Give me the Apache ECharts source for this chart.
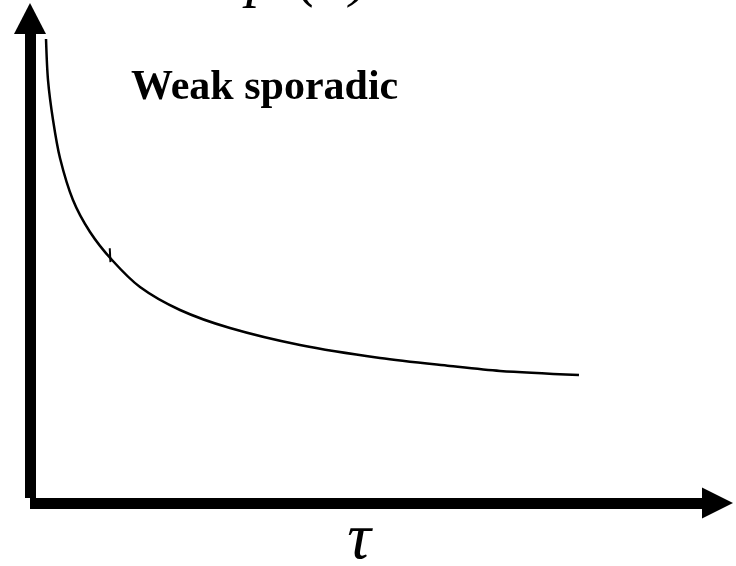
<!DOCTYPE html>
<html>
<head>
<meta charset="utf-8">
<script src="https://cdn.jsdelivr.net/npm/echarts@6/dist/echarts.min.js"></script>
<style>
  html, body { margin: 0; padding: 0; background: #fff; }
  #chart { width: 736px; height: 566px; }
</style>
</head>
<body>
<div id="chart"></div>
<script>
// Decay of the waiting-time density p(τ) for weak sporadic behaviour
const tauValues = [0.233, 0.262, 0.335, 0.436, 0.625, 0.873, 1.193, 1.6, 2.182, 2.909, 3.927, 5.091, 6.109, 6.836, 7.985];
const pValues   = [9.573, 8.717, 7.883, 7.091, 6.215, 5.548, 4.963, 4.4, 3.921, 3.545, 3.191, 2.92, 2.753, 2.649, 2.565];

// small hand-drawn stroke crossing the curve
const markTau = [1.16, 1.17];
const markP   = [5.21, 4.92];

const regimeLabel = 'Weak sporadic';
const xAxisLabel = 'τ';
const formulaGlyphs = ['p', '(', 'τ', ')', '~', 'τ'];
const formulaX = [246, 298, 316, 350, 398, 458];

const curve = tauValues.map((t, i) => [t, pValues[i]]);
const mark = markTau.map((t, i) => [t, markP[i]]);

const serif = '"Liberation Serif", "Times New Roman", serif';

const chart = echarts.init(document.getElementById('chart'), null, { renderer: 'canvas' });

const graphics = [
  {
    type: 'text',
    left: 131,
    top: 67,
    style: {
      text: regimeLabel,
      font: 'bold 42px ' + serif,
      fill: '#000'
    }
  },
  {
    type: 'text',
    x: 359,
    y: 541,
    style: {
      text: xAxisLabel,
      font: 'italic 66px ' + serif,
      fill: '#000',
      align: 'center',
      verticalAlign: 'middle'
    }
  }
].concat(formulaGlyphs.map((g, i) => ({
  type: 'text',
  x: formulaX[i],
  y: -21,
  style: {
    text: g,
    font: 'italic 60px ' + serif,
    fill: '#000',
    align: 'left',
    verticalAlign: 'middle'
  }
})));

chart.setOption({
  animation: false,
  backgroundColor: '#fff',
  grid: { left: 30, right: 18.5, top: 18.5, bottom: 68 },
  xAxis: {
    type: 'value',
    min: 0,
    max: 10,
    offset: 5,
    splitLine: { show: false },
    axisTick: { show: false },
    axisLabel: { show: false },
    axisLine: {
      show: true,
      onZero: false,
      symbol: ['none', 'triangle'],
      symbolSize: [31, 31],
      lineStyle: { color: '#000', width: 11, cap: 'butt' }
    }
  },
  yAxis: {
    type: 'value',
    min: 0,
    max: 10,
    splitLine: { show: false },
    axisTick: { show: false },
    axisLabel: { show: false },
    axisLine: {
      show: true,
      onZero: false,
      symbol: ['none', 'triangle'],
      symbolSize: [32, 31],
      lineStyle: { color: '#000', width: 11, cap: 'butt' }
    }
  },
  series: [
    {
      type: 'line',
      data: curve,
      smooth: 0.3,
      showSymbol: false,
      lineStyle: { color: '#000', width: 2.5 }
    },
    {
      type: 'line',
      data: mark,
      showSymbol: false,
      lineStyle: { color: '#000', width: 2 }
    }
  ],
  graphic: graphics
});
</script>
</body>
</html>
